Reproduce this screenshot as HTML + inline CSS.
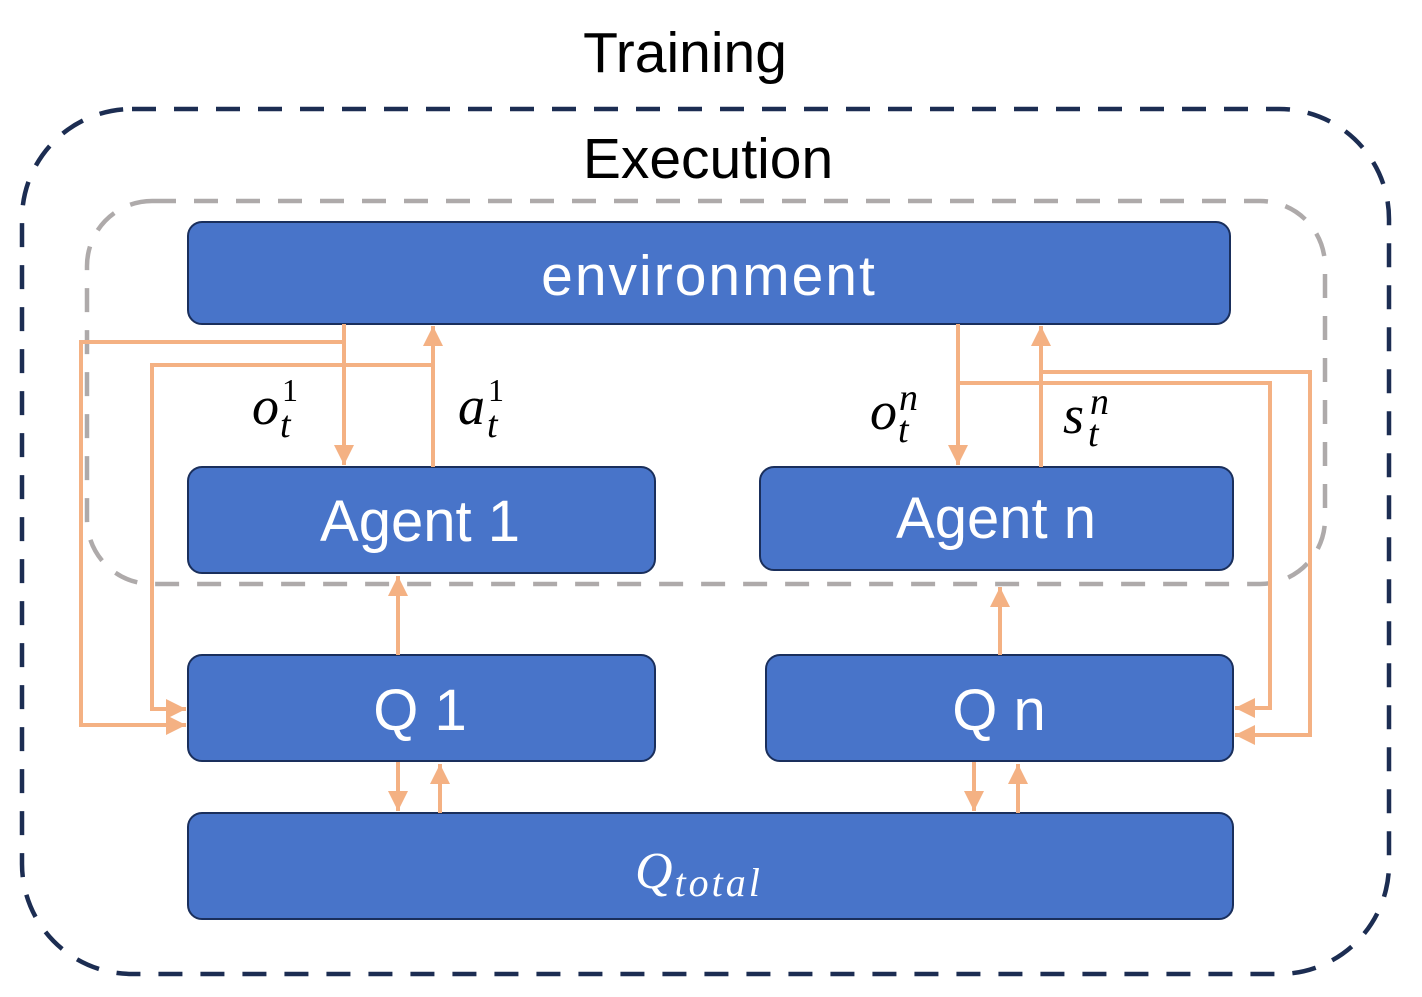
<!DOCTYPE html>
<html><head><meta charset="utf-8"><style>
html,body{margin:0;padding:0;background:#fff;}
svg{display:block;}
</style></head><body>
<svg width="1422" height="997" viewBox="0 0 1422 997" xmlns="http://www.w3.org/2000/svg">
<defs>
<marker id="ah" viewBox="0 0 10 10" refX="10" refY="5" markerWidth="5" markerHeight="5" orient="auto" markerUnits="strokeWidth">
<path d="M0,0 L10,5 L0,10 z" fill="#f4b183"/>
</marker>
</defs>
<text x="685" y="72" font-family="Liberation Sans, sans-serif" font-size="57" text-anchor="middle" fill="#000">Training</text>
<rect x="22" y="109" width="1367" height="865" rx="110" fill="none" stroke="#1c2d52" stroke-width="4.5" stroke-dasharray="24 18"/>
<text x="708" y="178" font-family="Liberation Sans, sans-serif" font-size="57" text-anchor="middle" fill="#000">Execution</text>
<rect x="87" y="201" width="1238" height="383" rx="65" fill="none" stroke="#aeaaaa" stroke-width="4.5" stroke-dasharray="24 18"/>

<g fill="#4874c9" stroke="#1a2f5c" stroke-width="2">
<rect x="188" y="222" width="1042" height="102" rx="14"/>
<rect x="188" y="467" width="467" height="106" rx="14"/>
<rect x="760" y="467" width="473" height="103" rx="14"/>
<rect x="188" y="655" width="467" height="106" rx="14"/>
<rect x="766" y="655" width="467" height="106" rx="14"/>
<rect x="188" y="813" width="1045" height="106" rx="14"/>
</g>
<g font-family="Liberation Sans, sans-serif" fill="#fff" text-anchor="middle">
<text x="709" y="295" font-size="57" letter-spacing="2">environment</text>
<text x="420" y="541" font-size="58">Agent 1</text>
<text x="996" y="538" font-size="58">Agent n</text>
<text x="420" y="730" font-size="58">Q 1</text>
<text x="999" y="730" font-size="58">Q n</text>
</g>
<text x="635" y="888" font-family="Liberation Serif, serif" font-style="italic" fill="#fff" font-size="52">Q<tspan font-size="40" dx="2" dy="8" letter-spacing="3">total</tspan></text>

<g stroke="#f4b183" stroke-width="4" fill="none">
<line x1="344" y1="324" x2="344" y2="465" marker-end="url(#ah)"/>
<polyline points="344,342 81,342 81,725 186,725" marker-end="url(#ah)"/>
<line x1="433" y1="467" x2="433" y2="326" marker-end="url(#ah)"/>
<polyline points="433,365 152,365 152,709 186,709" marker-end="url(#ah)"/>
<line x1="398" y1="655" x2="398" y2="576" marker-end="url(#ah)"/>
<line x1="398" y1="762" x2="398" y2="811" marker-end="url(#ah)"/>
<line x1="440" y1="813" x2="440" y2="764" marker-end="url(#ah)"/>

<line x1="958" y1="324" x2="958" y2="465" marker-end="url(#ah)"/>
<line x1="1041" y1="467" x2="1041" y2="326" marker-end="url(#ah)"/>
<polyline points="958,383 1270,383 1270,708 1235,708" marker-end="url(#ah)"/>
<polyline points="1041,372 1310,372 1310,735 1235,735" marker-end="url(#ah)"/>
<line x1="1000" y1="655" x2="1000" y2="587" marker-end="url(#ah)"/>
<line x1="974" y1="762" x2="974" y2="811" marker-end="url(#ah)"/>
<line x1="1018" y1="813" x2="1018" y2="764" marker-end="url(#ah)"/>
</g>

<g font-family="Liberation Serif, serif" font-style="italic" fill="#000">
<text x="252" y="424" font-size="54">o</text><text x="282" y="401" font-size="32" font-style="normal">1</text><text x="280" y="437" font-size="38">t</text>
<text x="458" y="424" font-size="54">a</text><text x="488" y="401" font-size="32" font-style="normal">1</text><text x="487" y="437" font-size="38">t</text>
<text x="870" y="429" font-size="54">o</text><text x="899" y="410" font-size="38">n</text><text x="898" y="442" font-size="38">t</text>
<text x="1063" y="433" font-size="54">s</text><text x="1090" y="414" font-size="38">n</text><text x="1088" y="446" font-size="38">t</text>
</g>
</svg>
</body></html>
